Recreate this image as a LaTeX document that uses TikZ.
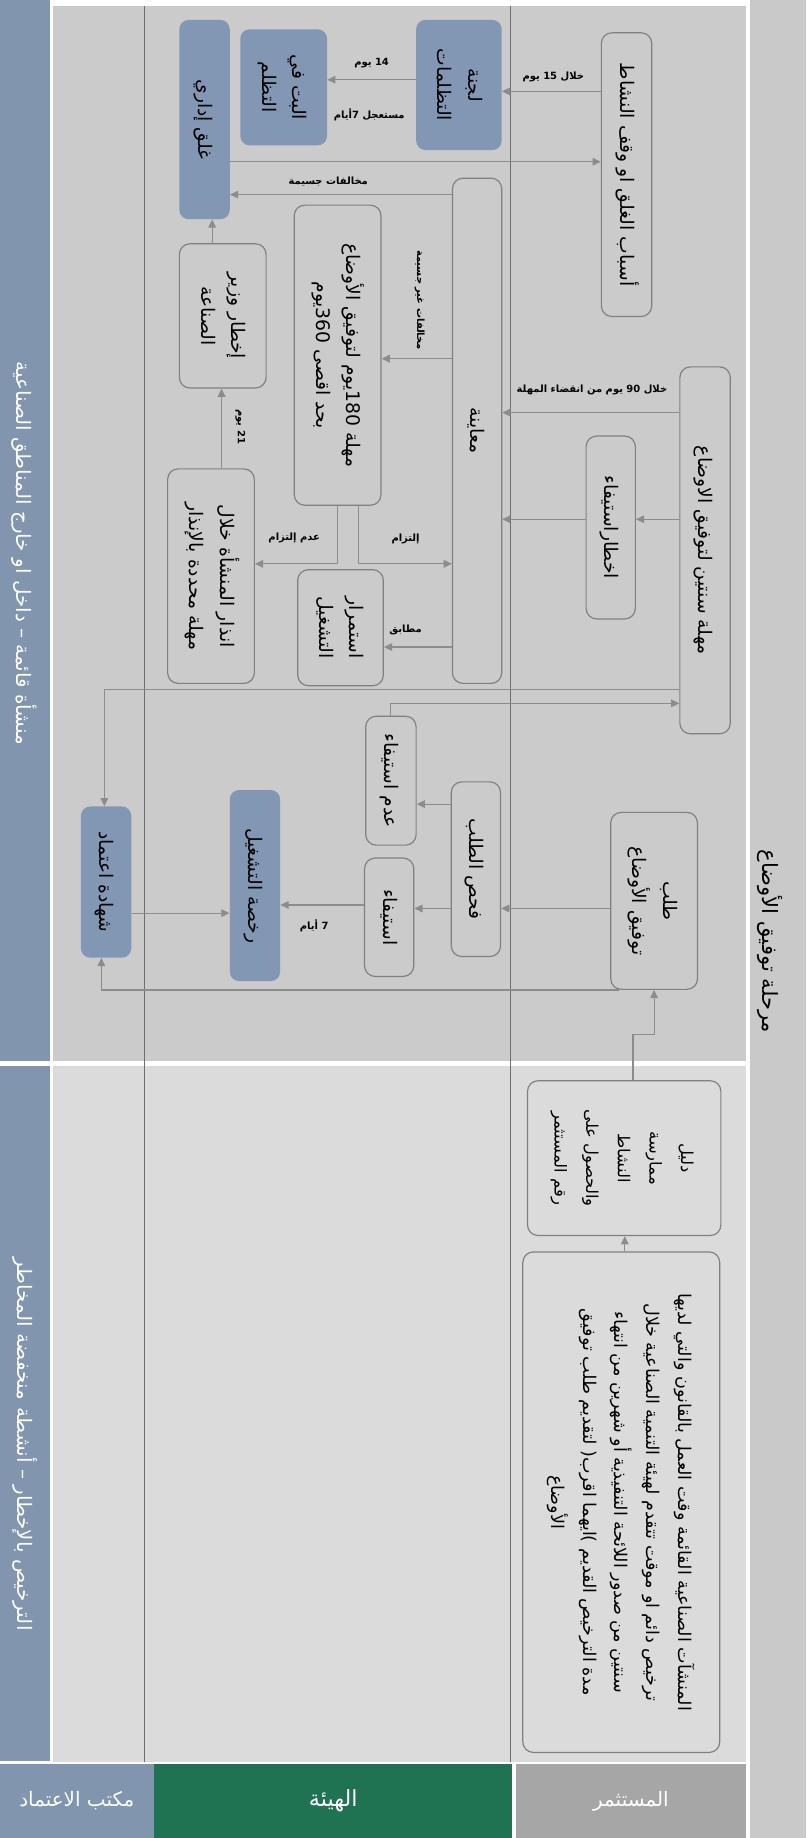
\documentclass[tikz,border=0pt]{standalone}
\usepackage{fontspec}
\usepackage{graphicx}
\usetikzlibrary{arrows.meta}
\newfontfamily\arabicfont[Script=Arabic]{DejaVu Sans}
\TeXXeTstate=1
\definecolor{panelA}{HTML}{CBCBCB}
\definecolor{panelB}{HTML}{DBDBDB}
\definecolor{sideCol}{HTML}{C9C9C9}
\definecolor{bandBlue}{HTML}{8195AF}
\definecolor{boxBlue}{HTML}{8197B3}
\definecolor{headGreen}{HTML}{1F7252}
\definecolor{headGray}{HTML}{A6A6A6}
\definecolor{lineGray}{HTML}{8C8C8C}
\definecolor{edgeGray}{HTML}{808080}
\definecolor{laneGray}{HTML}{6E6E6E}
\newcommand\artx[1]{{\arabicfont\beginR #1\endR}}
\newcommand\lnum[1]{\beginL#1\endL{}}
\newcommand\rottx[1]{\rotatebox{-90}{\begin{tabular}{@{}c@{}}#1\end{tabular}}}
\newcommand\mkbox[7]{%
  \pgfmathsetmacro\mkbcx{(#3+#5)/2}%
  \pgfmathsetmacro\mkbcy{(#4+#6)/2}%
  \pgfmathsetmacro\mkbw{#5-#3}%
  \pgfmathsetmacro\mkbh{#6-#4}%
  \node[#1, minimum width=\mkbw pt, minimum height=\mkbh pt] (#2) at (\mkbcx,\mkbcy) {#7};%
}
\tikzset{
  wbox/.style={draw=edgeGray, line width=1pt, rounded corners=9pt, inner sep=0pt, text=black, font=\fontsize{16}{26}\selectfont},
  bbox/.style={fill=boxBlue, rounded corners=8pt, inner sep=0pt, text=black, font=\fontsize{16}{26}\selectfont},
  flow/.style={color=lineGray, line width=1pt, -{Triangle[length=7pt,width=6.5pt]}},
  lbl/.style={font=\fontsize{8.5}{10}\selectfont\bfseries, inner sep=0pt, text=black},
  bandtx/.style={inner sep=0pt, text=white, font=\fontsize{17}{20}\selectfont},
  headtx/.style={inner sep=0pt, text=white, font=\fontsize{17}{20}\selectfont},
}
\begin{document}
\begin{tikzpicture}[x=1pt,y=-1pt]
\useasboundingbox (0,0) rectangle (688,1568);
% backgrounds
\fill[white] (0,0) rectangle (688,1568);
\fill[sideCol] (639.5,0) rectangle (688,1568);
\fill[panelA] (45.5,5) rectangle (636.5,905);
\fill[panelB] (45.5,909) rectangle (636.5,1503);
\fill[bandBlue] (0,0) rectangle (42.5,905);
\fill[bandBlue] (0,909) rectangle (42.5,1502);
\draw[laneGray, line width=0.8pt] (123.5,5) -- (123.5,1503);
\draw[laneGray, line width=0.8pt] (435.5,5) -- (435.5,1503);

% header texts
\node[inner sep=0pt, text=black, font=\fontsize{18}{21}\selectfont] (title) at (657,803) {\rotatebox{-90}{\artx{مرحلة توفيق الأوضاع}}};
\node[bandtx] (bandA) at (21,472) {\rotatebox{-90}{\artx{منشأة قائمة – داخل او خارج المناطق الصناعية}}};
\node[bandtx] (bandB) at (21,1232) {\rotatebox{-90}{\artx{الترخيص بالإخطار – أنشطة منخفضة المخاطر}}};

% bottom lane labels
\mkbox{headtx,fill=bandBlue}{labOffice}{0}{1505}{131}{1568}{\artx{مكتب الاعتماد}}
\mkbox{headtx,fill=headGreen,font=\fontsize{19}{22}\selectfont}{labAuth}{131.5}{1505}{437}{1568}{\artx{الهيئة}}
\mkbox{headtx,fill=headGray}{labInv}{440}{1505}{636.5}{1568}{\artx{المستثمر}}

% boxes
\mkbox{wbox}{asbab}{513}{28}{556}{270}{\rottx{\artx{أسباب الغلق او وقف النشاط}}}
\mkbox{bbox}{lajna}{355}{17}{428}{128}{\rottx{\artx{لجنة}\\\artx{التظلمات}}}
\mkbox{bbox}{batt}{205}{25}{279}{124}{\rottx{\artx{البت في}\\\artx{التظلم}}}
\mkbox{bbox}{ghalq}{153}{17}{196}{187}{\rottx{\artx{غلق إداري}}}
\mkbox{wbox}{moayana}{386}{152}{428}{583}{\rottx{\artx{معاينة}}}
\mkbox{wbox}{mohlaA}{251}{175}{325}{431}{\rottx{\artx{مهلة \lnum{180}يوم لتوفيق الأوضاع}\\\artx{بحد اقصى \lnum{360}يوم}}}
\mkbox{wbox}{ikhtar}{153}{208}{227}{331}{\rottx{\artx{إخطار وزير}\\\artx{الصناعة}}}
\mkbox{wbox}{mohlaB}{580}{313}{623}{626}{\rottx{\artx{مهلة سنتين لتوفيق الاوضاع}}}
\mkbox{wbox}{notice}{500}{372}{542}{528}{\rottx{\artx{اخطاراستيفاء}}}
\mkbox{wbox}{istimrar}{254}{486}{327}{585}{\rottx{\artx{استمرار}\\\artx{التشغيل}}}
\mkbox{wbox}{inthar}{143}{400}{217}{583}{\rottx{\artx{انذار المنشأة خلال}\\\artx{مهلة محددة بالإنذار}}}
\mkbox{wbox}{adam}{312}{611}{355}{721}{\rottx{\artx{عدم استيفاء}}}
\mkbox{wbox}{fahs}{385}{667}{427}{816}{\rottx{\artx{فحص الطلب}}}
\mkbox{wbox}{talab}{521}{693}{595}{844}{\rottx{\artx{طلب}\\\artx{توفيق الأوضاع}}}
\mkbox{wbox}{istifaa}{311}{732}{353}{833}{\rottx{\artx{استيفاء}}}
\mkbox{bbox}{rukhsa}{196}{674}{239}{837}{\rottx{\artx{رخصة التشغيل}}}
\mkbox{bbox}{shahada}{69}{688}{112}{817}{\rottx{\artx{شهادة اعتماد}}}
\mkbox{wbox,font=\fontsize{14}{27}\selectfont}{dalil}{450}{922}{615}{1054}{\rottx{\artx{دليل}\\\artx{ممارسة}\\\artx{النشاط}\\\artx{والحصول على}\\\artx{رقم المستثمر}}}
\mkbox{wbox,font=\fontsize{15}{27}\selectfont}{bigbox}{446}{1068}{614}{1495}{\rottx{\artx{المنشآت الصناعية القائمة وقت العمل بالقانون والتي لديها}\\\artx{ترخيص دائم او موقت تتقدم لهيئة التنمية الصناعية خلال}\\\artx{سنتين من صدور اللائحة التنفيذية أو شهرين من انتهاء}\\\artx{مدة الترخيص القديم \lnum{)}ايهما اقرب\lnum{(} لتقديم طلب توفيق}\\\artx{الأوضاع}}}

% connectors
\draw[flow] (asbab.west |- 0,78) -- (lajna.east |- 0,78);
\draw[flow] (lajna.west |- 0,68) -- (batt.east |- 0,68);
\draw[flow] (ghalq.east |- 0,138) -- (asbab.west |- 0,138);
\draw[flow] (moayana.west |- 0,166) -- (ghalq.east |- 0,166);
\draw[flow] (ikhtar.north -| 181,0) -- (ghalq.south -| 181,0);
\draw[flow] (moayana.west |- 0,306) -- (mohlaA.east |- 0,306);
\draw[flow] (mohlaB.west |- 0,352) -- (moayana.east |- 0,352);
\draw[flow] (mohlaB.west |- 0,443) -- (notice.east |- 0,443);
\draw[flow] (notice.west |- 0,443) -- (moayana.east |- 0,443);
\draw[flow] (inthar.north -| 189,0) -- (ikhtar.south -| 189,0);
\draw[flow] (mohlaA.south -| 288,0) |- (inthar.east |- 0,481);
\draw[flow] (mohlaA.south -| 306,0) |- (moayana.west |- 0,481);
\draw[flow] (moayana.west |- 0,552) -- (istimrar.east |- 0,552);
\draw[flow] (mohlaB.west |- 0,588) -| (shahada.north -| 89,0);
\draw[flow] (adam.north -| 333,0) |- (mohlaB.west |- 0,600);
\draw[flow] (talab.west |- 0,775) -- (fahs.east |- 0,775);
\draw[flow] (fahs.west |- 0,686) -- (adam.east |- 0,686);
\draw[flow] (fahs.west |- 0,775) -- (istifaa.east |- 0,775);
\draw[flow] (istifaa.west |- 0,772) -- (rukhsa.east |- 0,772);
\draw[flow] (shahada.east |- 0,779) -- (rukhsa.west |- 0,779);
\draw[flow] (talab.south -| 528,0) -| (shahada.south -| 86.5,0);
\draw[flow] (dalil.north -| 540,0) -- (540,882.5) -| (talab.south -| 558,0);
\draw[flow] (bigbox.north -| 533,0) -- (dalil.south -| 533,0);

% connector labels
\node[lbl] (l1) at (472,66) {\artx{خلال \lnum{15} يوم}};
\node[lbl] (l2) at (317,54) {\artx{\lnum{14} يوم}};
\node[lbl] (l3) at (315,98) {\artx{مستعجل \lnum{7}أيام}};
\node[lbl] (l4) at (280,155) {\artx{مخالفات جسيمة}};
\node[lbl] (l5) at (358,256) {\rotatebox{-90}{\artx{مخالفات غير جسيمة}}};
\node[lbl] (l6) at (505,333) {\artx{خلال \lnum{90} يوم من انقضاء المهلة}};
\node[lbl] (l7) at (205,364) {\rotatebox{-90}{\artx{\lnum{21} يوم}}};
\node[lbl] (l8) at (251,459) {\artx{عدم إلتزام}};
\node[lbl] (l9) at (346,460) {\artx{إلتزام}};
\node[lbl] (l10) at (346,537) {\artx{مطابق}};
\node[lbl] (l11) at (268,790) {\artx{\lnum{7} أيام}};
\end{tikzpicture}
\end{document}
